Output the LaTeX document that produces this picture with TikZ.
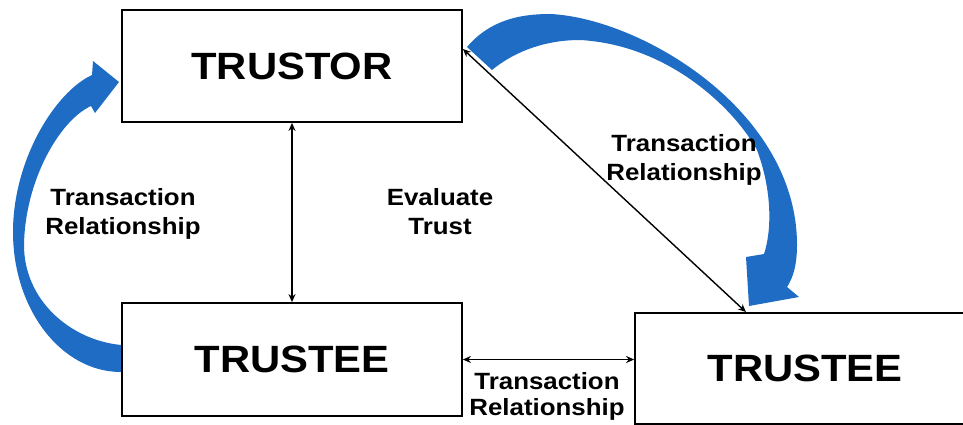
\documentclass[tikz,border=0pt]{standalone}
\usepackage{fontspec}
\newfontfamily\diagfont[FakeStretch=1.1]{Liberation Sans}
\usetikzlibrary{arrows.meta}
\definecolor{arrowblue}{RGB}{31,108,196}
\begin{document}
\begin{tikzpicture}[x=1pt,y=-1pt,
  box/.style={draw=black, line width=1.8pt, fill=white, minimum width=340pt,
    inner sep=0pt, font=\diagfont\bfseries\fontsize{38}{44}\selectfont},
  lbl/.style={align=center, inner sep=0pt,
    font=\diagfont\bfseries\fontsize{23.5}{29}\selectfont},
  link/.style={line width=1.4pt,
    {Stealth[length=8pt,width=7pt]}-{Stealth[length=8pt,width=7pt]}},
  flow/.style={fill=arrowblue}]
\clip (0,0) rectangle (963,425);

% curved blue arrow on the left: from the lower trustee up to the trustor
\fill[flow] (121,372) .. controls (61,372) and (13,309) .. (13,232)
  .. controls (13,160) and (55,92) .. (92,75)
  -- (93,61) -- (119,82) -- (95,113) -- (91,106)
  .. controls (60,120) and (25,180) .. (24,245)
  .. controls (24,300) and (70,340) .. (121,345) -- cycle;

% curved blue arrow on the right: from the trustor over to the second trustee
\fill[flow] (467,47) .. controls (490,20) and (520,14) .. (550,14)
  .. controls (640,18) and (797,110) .. (797,245)
  .. controls (797,265) and (793,278) .. (787,287)
  -- (799,297) -- (749,306) -- (746,257) -- (764,254)
  .. controls (772,230) and (772,190) .. (757,150)
  .. controls (735,110) and (670,45) .. (580,40)
  .. controls (540,40) and (510,55) .. (492,70) -- cycle;

% boxes
\node[box, minimum height=112pt] (trustor) at (292,66) {TRUSTOR};
\node[box, minimum height=113pt] (trusteeA) at (292,359.5) {TRUSTEE};
\node[box, minimum height=111pt] (trusteeB) at (805,368.5) {TRUSTEE};

% relationships
\draw[link] (trustor.south) -- (trusteeA.north);
\draw[link] ([yshift=17pt]trustor.east) -- ([xshift=-59pt]trusteeB.north);
\draw[link] (trusteeA.east) -- (trusteeA.east -| trusteeB.west);

% labels
\node[lbl] (lblleft) at (123,214) {Transaction\\Relationship};
\node[lbl] (lbleval) at (440,212) {Evaluate\\Trust};
\node[lbl] (lbldiag) at (684,160) {Transaction\\Relationship};
\node[lbl] (lblbottom) at (547,396) {Transaction\\[-3pt]Relationship};
\end{tikzpicture}
\end{document}
